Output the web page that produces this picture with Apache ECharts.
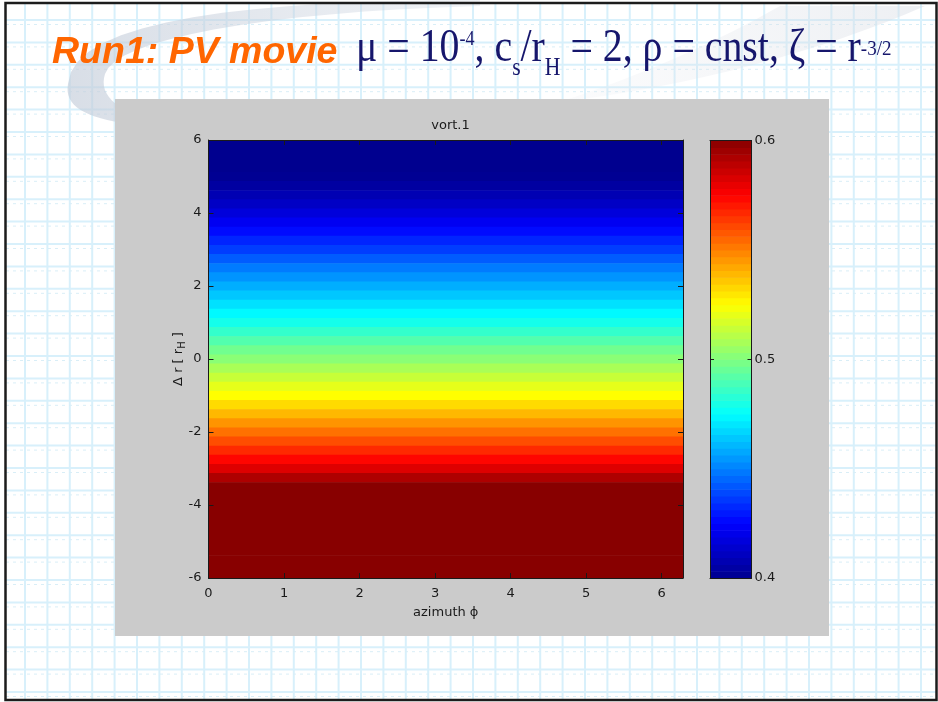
<!DOCTYPE html>
<html>
<head>
<meta charset="utf-8">
<script src="https://cdn.jsdelivr.net/npm/echarts@6/dist/echarts.min.js"></script>
<style>
  html, body { margin: 0; padding: 0; background: #ffffff; }
  #chart { width: 938px; height: 702px; }
</style>
</head>
<body>
<div id="chart"></div>
<script>
// Radial offset of each band centre, in units of r_H (top to bottom)
const radius = [
   6.00,  5.75,  5.50,  5.25,  5.00,  4.75,  4.50,  4.25,  4.00,  3.75,
   3.50,  3.25,  3.00,  2.75,  2.50,  2.25,  2.00,  1.75,  1.50,  1.25,
   1.00,  0.75,  0.50,  0.25,  0.00, -0.25, -0.50, -0.75, -1.00, -1.25,
  -1.50, -1.75, -2.00, -2.25, -2.50, -2.75, -3.00, -3.25, -3.50, -3.75,
  -4.00, -4.25, -4.50, -4.75, -5.00, -5.25, -5.50, -5.75, -6.00
];
// Vortensity along each band (uniform in azimuth)
const vorticity = [
  0.396, 0.397, 0.398, 0.399, 0.401, 0.404, 0.408, 0.412, 0.417, 0.422,
  0.427, 0.432, 0.437, 0.443, 0.449, 0.454, 0.459, 0.464, 0.469, 0.474,
  0.479, 0.485, 0.491, 0.497, 0.502, 0.508, 0.514, 0.520, 0.525, 0.532,
  0.539, 0.546, 0.553, 0.560, 0.567, 0.574, 0.582, 0.592, 0.602, 0.612,
  0.620, 0.627, 0.633, 0.638, 0.642, 0.646, 0.650, 0.653, 0.656
];
const colorbarTicks = [0.4, 0.5, 0.6];

const R_MIN = -6, R_MAX = 6, R_STEP = 0.25;
const PHI_MAX = 2 * Math.PI;
const C_MIN = 0.4, C_MAX = 0.6, C_LEVELS = 64;

// jet colour map
const jet = ['#00008f', '#0000ff', '#0080ff', '#00ffff', '#80ff80',
             '#ffff00', '#ff8000', '#ff0000', '#880000'];

const fieldData = radius.map((r, i) => [r, vorticity[i]]);
const cbStep = (C_MAX - C_MIN) / C_LEVELS;
const colorbarData = [];
for (let i = 0; i < C_LEVELS; i++) {
  const c = C_MIN + (i + 0.5) * cbStep;
  colorbarData.push([c, c]);
}

const FONT = 'DejaVu Sans';
const INK = '#1a1a1a';
const NAVY = '#16166c';

// slide background: graph-paper lines
const paper = [];
for (let x = 25; x < 936; x += 22.4) {
  paper.push({ type: 'line', z: 0, silent: true,
    shape: { x1: x, y1: 4, x2: x, y2: 699 },
    style: { stroke: '#d8f0fb', lineWidth: 2 } });
}
for (let y = 20; y < 699; y += 22.4) {
  paper.push({ type: 'line', z: 0, silent: true,
    shape: { x1: 6, y1: y, x2: 936, y2: y },
    style: { stroke: '#d8f0fb', lineWidth: 2 } });
  paper.push({ type: 'line', z: 0, silent: true,
    shape: { x1: 6, y1: y + 4.5, x2: 936, y2: y + 4.5 },
    style: { stroke: '#d9eef7', lineWidth: 1, lineDash: [3, 4] } });
}

// outline built from cubic segments: [start, [c1, c2, end], ...]
function outline(start, segs) {
  const pts = [start];
  let p = start;
  segs.forEach(s => {
    if (s.length === 1) { pts.push(s[0]); p = s[0]; return; }
    const [c1, c2, e] = s;
    for (let i = 1; i <= 16; i++) {
      const t = i / 16, u = 1 - t;
      pts.push([
        u * u * u * p[0] + 3 * u * u * t * c1[0] + 3 * u * t * t * c2[0] + t * t * t * e[0],
        u * u * u * p[1] + 3 * u * u * t * c1[1] + 3 * u * t * t * c2[1] + t * t * t * e[1]
      ]);
    }
    p = e;
  });
  return pts;
}
const swooshLeft = outline([480, 0], [
  [[260, 0], [72, 18], [68, 84]],
  [[64, 106], [85, 118], [130, 124]],
  [[170, 124]],
  [[118, 114], [98, 96], [105, 74]],
  [[115, 40], [260, 12], [480, 6]]
]);
const swooshRight = outline([560, 102], [
  [[690, 86], [820, 52], [925, 6]],
  [[780, 6]],
  [[720, 40], [650, 72], [560, 102]]
]);

const chart = echarts.init(document.getElementById('chart'), null, { renderer: 'canvas' });

const tickStyle = { show: true, inside: true, length: 5, lineStyle: { color: INK, width: 1 } };
const lineStyle = { show: true, onZero: false, lineStyle: { color: INK, width: 1 } };

const serif = 'Liberation Serif';
chart.setOption({
  backgroundColor: '#ffffff',
  animation: false,
  title: {
    text: 'vort.1', left: 445.5, top: 114, textAlign: 'center', z: 8,
    textStyle: { fontFamily: FONT, fontSize: 13, fontWeight: 'normal', color: INK }
  },
  graphic: [
    ...paper,
    // swoosh decoration behind the heading
    { type: 'polygon', z: 1, silent: true,
      shape: { points: swooshLeft },
      style: { fill: { type: 'linear', x: 0, y: 0, x2: 1, y2: 0,
        colorStops: [{ offset: 0, color: 'rgba(196,205,218,0.66)' }, { offset: 1, color: 'rgba(205,212,224,0.3)' }] } } },
    { type: 'polygon', z: 1, silent: true,
      shape: { points: swooshRight },
      style: { fill: { type: 'linear', x: 1, y: 0, x2: 0, y2: 1,
        colorStops: [{ offset: 0, color: 'rgba(215,220,228,0.45)' }, { offset: 1, color: 'rgba(225,228,235,0.12)' }] } } },
    // figure panel
    { type: 'rect', z: 2, silent: true,
      shape: { x: 115, y: 99, width: 714, height: 537 },
      style: { fill: '#cbcbcb' } },
    // slide frame
    { type: 'rect', z: 3, silent: true,
      shape: { x: 5.5, y: 3, width: 931, height: 697 },
      style: { fill: 'none', stroke: '#1c1c1c', lineWidth: 2.5 } },
    // slide heading
    { type: 'text', z: 9, x: 52, y: 34,
      style: { text: 'Run1: PV movie', fill: '#ff6600',
        font: 'italic bold 37.5px "Liberation Sans"' } },
    { type: 'text', z: 9, x: 356, y: 26, scaleX: 0.865,
      style: {
        text: '{m|μ = 10}{sup|-4}{m|, c}{sub|s}{m|/r}{sub|H}{m| = 2, ρ = cnst, ζ = r}{sup2|-3/2}',
        rich: {
          m:    { fontFamily: serif, fontSize: 46, fill: NAVY, lineHeight: 52, verticalAlign: 'top' },
          sup:  { fontFamily: serif, fontSize: 21, fill: NAVY, lineHeight: 21, verticalAlign: 'top', padding: [3, 0, 0, 0] },
          sup2: { fontFamily: serif, fontSize: 22, fill: NAVY, lineHeight: 22, verticalAlign: 'top', padding: [12, 0, 0, 0] },
          sub:  { fontFamily: serif, fontSize: 25, fill: NAVY, lineHeight: 25, verticalAlign: 'top', padding: [30, 0, 0, 0] }
        }
      } }
  ],
  grid: [
    { left: 208.5, top: 140, width: 474.5, height: 438, show: false },
    { left: 710, top: 140.5, width: 41.5, height: 437.5, show: false }
  ],
  visualMap: {
    type: 'continuous', show: false, min: C_MIN, max: C_MAX,
    dimension: 1, seriesIndex: [0, 1], inRange: { color: jet }
  },
  xAxis: [
    { gridIndex: 0, type: 'value', min: 0, max: PHI_MAX, interval: 1, position: 'bottom', z: 10,
      axisLine: lineStyle, axisTick: tickStyle, splitLine: { show: false },
      axisLabel: { fontFamily: FONT, fontSize: 13, color: INK, margin: 9,
        formatter: v => (Math.abs(v - Math.round(v)) < 1e-6 ? String(Math.round(v)) : '') },
      name: 'azimuth ϕ', nameLocation: 'middle', nameGap: 28, nameMoveOverlap: false,
      nameTextStyle: { fontFamily: FONT, fontSize: 13, color: INK } },
    { gridIndex: 0, type: 'value', min: 0, max: PHI_MAX, interval: 1, position: 'top', z: 10,
      axisLine: lineStyle, axisTick: tickStyle, axisLabel: { show: false }, splitLine: { show: false } },
    { gridIndex: 1, type: 'value', min: 0, max: 1, position: 'bottom', z: 10,
      axisLine: lineStyle, axisTick: { show: false }, axisLabel: { show: false }, splitLine: { show: false } },
    { gridIndex: 1, type: 'value', min: 0, max: 1, position: 'top', z: 10,
      axisLine: lineStyle, axisTick: { show: false }, axisLabel: { show: false }, splitLine: { show: false } }
  ],
  yAxis: [
    { gridIndex: 0, type: 'value', min: R_MIN, max: R_MAX, interval: 2, position: 'left', z: 10,
      axisLine: lineStyle, axisTick: tickStyle, splitLine: { show: false },
      axisLabel: { fontFamily: FONT, fontSize: 13, color: INK, margin: 7 },
      name: '{n|Δ r [ r}{s|H}{n| ]}', nameLocation: 'middle', nameRotate: 90, nameGap: 21,
      nameMoveOverlap: false,
      nameTextStyle: { rich: {
        n: { fontFamily: FONT, fontSize: 13, color: INK, lineHeight: 18 },
        s: { fontFamily: FONT, fontSize: 10, color: INK, lineHeight: 18, verticalAlign: 'bottom' }
      } } },
    { gridIndex: 0, type: 'value', min: R_MIN, max: R_MAX, interval: 2, position: 'right', z: 10,
      axisLine: lineStyle, axisTick: tickStyle, axisLabel: { show: false }, splitLine: { show: false } },
    { gridIndex: 1, type: 'value', min: C_MIN, max: C_MAX, interval: 0.1, position: 'right', z: 10,
      axisLine: lineStyle, axisTick: { show: true, inside: true, length: 4, lineStyle: { color: INK } },
      splitLine: { show: false },
      axisLabel: { fontFamily: FONT, fontSize: 13, color: INK, margin: 3,
        formatter: v => colorbarTicks.find(t => Math.abs(t - v) < 1e-9) !== undefined ? v.toFixed(1) : '' } },
    { gridIndex: 1, type: 'value', min: C_MIN, max: C_MAX, interval: 0.1, position: 'left', z: 10,
      axisLine: lineStyle, axisTick: { show: true, inside: true, length: 4, lineStyle: { color: INK } },
      axisLabel: { show: false }, splitLine: { show: false } }
  ],
  series: [
    { type: 'custom', name: 'vort', xAxisIndex: 0, yAxisIndex: 0, z: 5, clip: true,
      data: fieldData,
      renderItem: function (params, api) {
        const r = api.value(0);
        const top = Math.min(r + R_STEP / 2, R_MAX);
        const bot = Math.max(r - R_STEP / 2, R_MIN);
        const p0 = api.coord([0, top]);
        const p1 = api.coord([PHI_MAX, bot]);
        return { type: 'rect',
          shape: { x: p0[0], y: p0[1], width: p1[0] - p0[0], height: p1[1] - p0[1] + 0.6 },
          style: { fill: api.visual('color') } };
      } },
    { type: 'custom', name: 'colorbar', xAxisIndex: 2, yAxisIndex: 2, z: 5, clip: true,
      data: colorbarData,
      renderItem: function (params, api) {
        const c = api.value(0);
        const p0 = api.coord([0, c + cbStep / 2]);
        const p1 = api.coord([1, c - cbStep / 2]);
        return { type: 'rect',
          shape: { x: p0[0], y: p0[1], width: p1[0] - p0[0], height: p1[1] - p0[1] + 0.6 },
          style: { fill: api.visual('color') } };
      } }
  ]
});
</script>
</body>
</html>
